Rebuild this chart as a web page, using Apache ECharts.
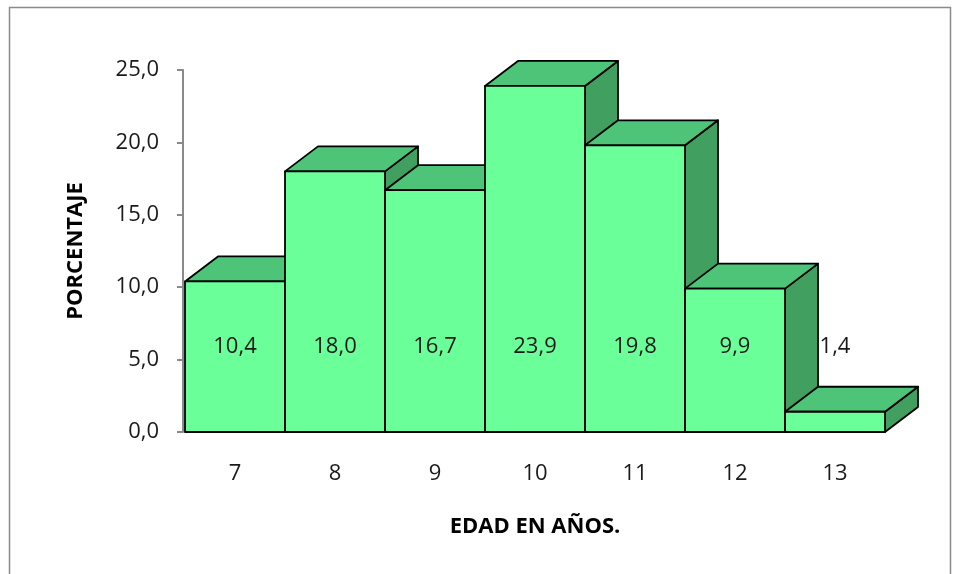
<!DOCTYPE html>
<html>
<head>
<meta charset="utf-8">
<script src="https://cdn.jsdelivr.net/npm/echarts@6/dist/echarts.min.js"></script>
<style>
  html, body { margin: 0; padding: 0; background: #ffffff; }
  #chart { width: 960px; height: 574px; }
</style>
</head>
<body>
<div id="chart"></div>
<script>
// Age groups and the share of each one (percent)
const ages = ['7', '8', '9', '10', '11', '12', '13'];
const percentages = [10.4, 18.0, 16.7, 23.9, 19.8, 9.9, 1.4];

// Value axis range
const yMin = 0;
const yMax = 25;
const yStep = 5;

// Look of the extruded columns
const DEPTH_X = 33;
const DEPTH_Y = -25;
const FRONT_COLOR = '#6bff9a';
const TOP_COLOR = '#4dc477';
const SIDE_COLOR = '#41a05f';
const LABEL_LEVEL = 5.9;   // height (in axis units) where value labels sit
const FONT = '"Open Sans", "Noto Sans", sans-serif';

const fmt = v => Number(v).toFixed(1).replace('.', ',');

function renderColumn(params, api) {
  const idx = api.value(0);
  const val = api.value(1);
  const top = api.coord([idx, val]);
  const base = api.coord([idx, 0]);
  const w = api.size([1, 0])[0];
  const x0 = top[0] - w / 2;
  const x1 = top[0] + w / 2;
  const yT = top[1];
  const yB = base[1];
  const labelY = api.coord([idx, LABEL_LEVEL])[1];
  const edge = { stroke: '#000000', lineWidth: 1.8, lineJoin: 'round' };
  return {
    type: 'group',
    children: [
      { // right side face
        type: 'polygon',
        shape: { points: [[x1, yT], [x1 + DEPTH_X, yT + DEPTH_Y], [x1 + DEPTH_X, yB + DEPTH_Y], [x1, yB]] },
        style: Object.assign({ fill: SIDE_COLOR }, edge)
      },
      { // top face
        type: 'polygon',
        shape: { points: [[x0, yT], [x0 + DEPTH_X, yT + DEPTH_Y], [x1 + DEPTH_X, yT + DEPTH_Y], [x1, yT]] },
        style: Object.assign({ fill: TOP_COLOR }, edge)
      },
      { // front face
        type: 'rect',
        shape: { x: x0, y: yT, width: w, height: yB - yT },
        style: Object.assign({ fill: FRONT_COLOR }, edge)
      },
      {
        type: 'text',
        style: {
          text: fmt(val),
          x: top[0],
          y: labelY,
          align: 'center',
          verticalAlign: 'middle',
          font: '22px ' + FONT,
          fill: '#1a1a1a'
        }
      }
    ]
  };
}

const chart = echarts.init(document.getElementById('chart'), null, { renderer: 'canvas' });

chart.setOption({
  backgroundColor: '#ffffff',
  animation: false,
  graphic: [{
    type: 'rect',
    z: -10,
    shape: { x: 9.5, y: 7.5, width: 941, height: 620 },
    style: { fill: 'none', stroke: '#8a8a8a', lineWidth: 1.5 }
  }],
  grid: { left: 185, top: 70, width: 700, bottom: 142 },
  xAxis: {
    type: 'category',
    data: ages,
    axisLine: { show: true, lineStyle: { color: '#8a8a8a', width: 1.5 } },
    axisTick: { show: false },
    axisLabel: { margin: 31, fontSize: 22, fontFamily: FONT, color: '#1a1a1a' },
    name: 'EDAD EN AÑOS.',
    nameLocation: 'middle',
    nameGap: 84,
    nameTextStyle: { fontSize: 22, fontWeight: 'bold', fontFamily: FONT, color: '#000000' }
  },
  yAxis: {
    type: 'value',
    min: yMin,
    max: yMax,
    interval: yStep,
    offset: 2,
    axisLine: { show: true, lineStyle: { color: '#8a8a8a', width: 2 } },
    axisTick: { show: true, length: 6, lineStyle: { color: '#8a8a8a', width: 2 } },
    splitLine: { show: false },
    axisLabel: { formatter: v => fmt(v), margin: 24, fontSize: 22, fontFamily: FONT, color: '#1a1a1a' },
    name: 'PORCENTAJE',
    nameLocation: 'middle',
    nameGap: 96,
    nameTextStyle: { fontSize: 22, fontWeight: 'bold', fontFamily: FONT, color: '#000000' }
  },
  series: [{
    type: 'custom',
    renderItem: renderColumn,
    encode: { x: 0, y: 1 },
    data: percentages.map((v, i) => [i, v]),
    clip: false
  }]
});
</script>
</body>
</html>
